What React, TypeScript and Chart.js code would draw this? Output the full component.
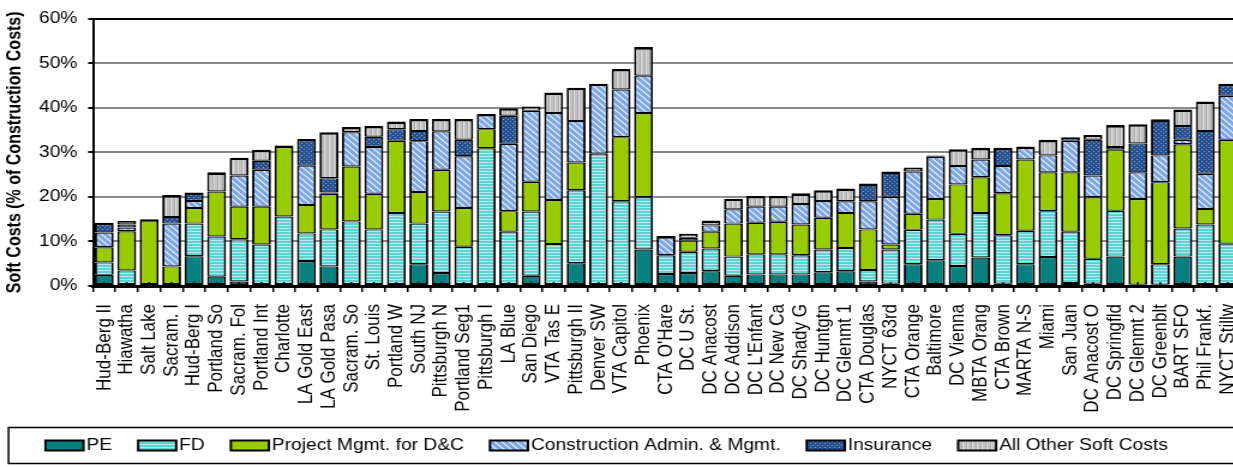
import React, { useEffect, useRef } from 'react';
import { Chart, registerables } from 'chart.js';

Chart.register(...registerables);

// ---------- data ----------
const categories = [
  'Hud-Berg II', 'Hiawatha', 'Salt Lake', 'Sacram. I', 'Hud-Berg I', 'Portland So', 'Sacram. Fol',
  'Portland Int', 'Charlotte', 'LA Gold East', 'LA Gold Pasa', 'Sacram. So', 'St. Louis', 'Portland W',
  'South NJ', 'Pittsburgh N', 'Portland Seg1', 'Pittsburgh I', 'LA Blue', 'San Diego', 'VTA Tas E',
  'Pittsburgh II', 'Denver SW', 'VTA Capitol', 'Phoenix', "CTA O'Hare", 'DC U St.', 'DC Anacost',
  'DC Addison', "DC L'Enfant", 'DC New Ca', 'DC Shady G', 'DC Huntgtn', 'DC Glenmt 1', 'CTA Douglas',
  'NYCT 63rd', 'CTA Orange', 'Baltimore', 'DC Vienna', 'MBTA Orang', 'CTA Brown', 'MARTA N-S', 'Miami',
  'San Juan', 'DC Anacost O', 'DC Springfld', 'DC Glenmt 2', 'DC Greenblt', 'BART SFO', 'Phil Frankf.',
  'NYCT Stillw',
];

const seriesNames = [
  'PE', 'FD', 'Project Mgmt. for D&C', 'Construction Admin. & Mgmt.', 'Insurance', 'All Other Soft Costs',
];

const peValues = [
  2.5, 0, 0, 0, 6.7, 2.1, 1.0, 0, 0, 5.6, 4.4, 0, 0, 0, 4.9, 2.9, 0, 0, 0, 2.3, 0, 5.1, 0, 0, 8.2,
  2.7, 2.9, 3.3, 2.3, 2.6, 2.6, 2.6, 3.1, 3.3, 1.0, 0.5, 4.9, 5.8, 4.5, 6.4, 0.5, 4.9, 6.5, 0.7,
  0.5, 6.6, 0.3, 0.3, 6.6, 0, 0,
];
const fdValues = [
  2.8, 3.5, 0, 0, 7.3, 9.0, 9.5, 9.3, 15.6, 6.2, 8.3, 14.5, 12.7, 16.4, 9.1, 13.8, 8.8, 30.9, 12.2,
  14.4, 9.4, 16.4, 29.7, 19.0, 11.7, 4.2, 4.8, 5.1, 4.3, 4.5, 4.5, 4.3, 5.1, 5.2, 2.6, 7.7, 7.7, 9.1,
  7.2, 10.0, 10.9, 7.5, 10.3, 11.5, 5.6, 10.3, 0, 4.6, 6.3, 13.8, 9.5,
];
const pmValues = [
  3.4, 8.8, 15.0, 4.4, 3.5, 10.1, 7.3, 8.5, 15.9, 6.4, 8.0, 12.3, 8.0, 16.2, 7.1, 9.4, 8.7, 4.3, 4.6,
  6.7, 9.9, 6.2, 0, 14.4, 18.9, 0, 2.5, 3.8, 7.4, 7.1, 7.3, 6.9, 7.1, 7.9, 9.1, 1.1, 3.6, 4.6, 11.1,
  8.0, 9.4, 16.0, 8.7, 13.3, 13.8, 13.7, 19.2, 18.4, 18.9, 3.5, 23.3,
];
const caValues = [
  3.3, 0.8, 0, 9.6, 1.6, 0, 7.0, 8.3, 0, 8.8, 0.3, 7.7, 10.5, 0, 11.4, 8.6, 11.6, 3.4, 15.1, 15.9,
  19.5, 9.3, 15.7, 10.7, 8.4, 4.3, 0.6, 1.4, 3.2, 3.6, 3.4, 4.6, 3.8, 2.6, 6.3, 10.7, 9.5, 9.5, 4.1,
  4.0, 6.1, 2.9, 3.8, 7.1, 4.9, 0.6, 6.0, 6.0, 1.0, 7.9, 9.9,
];
const insValues = [
  2.2, 0.7, 0, 1.5, 1.9, 0, 0, 2.0, 0, 6.0, 3.2, 0, 2.3, 2.6, 2.3, 0, 3.7, 0, 6.3, 0, 0, 0, 0, 0, 0,
  0, 0, 0, 0, 0, 0, 0, 0, 0, 4.0, 5.7, 0, 0.3, 0, 0, 4.1, 0, 0, 0.8, 8.0, 0, 6.5, 8.1, 3.1, 9.6, 2.7,
];
const otherValues = [
  0, 0.8, 0, 4.9, 0, 4.3, 4.0, 2.5, 0, 0, 10.3, 1.2, 2.4, 1.7, 2.7, 2.8, 4.7, 0, 1.7, 1.0, 4.6, 7.5,
  0, 4.6, 6.4, 0, 0.9, 1.1, 2.4, 2.4, 2.4, 2.4, 2.4, 2.9, 0, 0, 0.9, 0, 3.8, 2.6, 0, 0, 3.5, 0, 1.1,
  4.9, 4.3, 0, 3.7, 6.6, 0,
];

const yTickValues = [0, 10, 20, 30, 40, 50, 60];
const yTitle = 'Soft Costs (% of Construction Costs)';

// ---------- layout constants ----------
const SX = 1.2; // horizontal stretch of the rendered picture
const LW = 1040; // logical canvas width
const H = 467;
const FONT = '"Liberation Sans", Arial, Helvetica, sans-serif';

function tile(w: number, h: number, paint: (c: CanvasRenderingContext2D) => void): CanvasPattern | string {
  const cv = document.createElement('canvas');
  cv.width = w;
  cv.height = h;
  const c = cv.getContext('2d')!;
  paint(c);
  const p = c.createPattern(cv, 'repeat');
  return p || '#888';
}

function makeFills() {
  const pe = '#08807F';
  const fd = tile(6, 3, (c) => {
    c.fillStyle = '#5ED2D2';
    c.fillRect(0, 0, 6, 3);
    c.fillStyle = '#B6EEEE';
    c.fillRect(0, 0, 6, 1);
  });
  const pm = '#99CC00';
  const ca = tile(6, 6, (c) => {
    c.fillStyle = '#7EA7E6';
    c.fillRect(0, 0, 6, 6);
    c.fillStyle = '#D3E2F8';
    for (let y = 0; y < 6; y++) {
      for (let x = 0; x < 6; x++) {
        const d = (((x - y) % 6) + 6) % 6;
        if (d === 0 || d === 1) c.fillRect(x, y, 1, 1);
      }
    }
  });
  const ins = tile(4, 4, (c) => {
    c.fillStyle = '#26508E';
    c.fillRect(0, 0, 4, 4);
    c.fillStyle = '#86A6D6';
    c.fillRect(1, 1, 1, 1);
    c.fillRect(3, 3, 1, 1);
  });
  const other = tile(4, 1, (c) => {
    const cols = ['#C6C6C6', '#A6A6A6', '#E2E2E2', '#BEBEBE'];
    cols.forEach((col, i) => {
      c.fillStyle = col;
      c.fillRect(i, 0, 1, 1);
    });
  });
  return [pe, fd, pm, ca, ins, other];
}

const allSeries = [peValues, fdValues, pmValues, caValues, insValues, otherValues];

function topIndex(i: number) {
  let t = -1;
  allSeries.forEach((s, k) => {
    if (s[i] > 0) t = k;
  });
  return t;
}
function bottomIndex(i: number) {
  for (let k = 0; k < allSeries.length; k++) if (allSeries[k][i] > 0) return k;
  return -1;
}

// small inner tick marks at the foot of each category
const innerTicks = {
  id: 'innerTicks',
  afterDatasetsDraw(chart: any) {
    const ctx: CanvasRenderingContext2D = chart.ctx;
    const xs = chart.scales.x;
    const bottom = chart.chartArea.bottom;
    ctx.save();
    ctx.strokeStyle = '#000';
    ctx.lineWidth = 1.3;
    categories.forEach((_, i) => {
      const px = xs.getPixelForValue(i);
      ctx.beginPath();
      ctx.moveTo(px, bottom);
      ctx.lineTo(px, bottom - 4);
      ctx.stroke();
    });
    ctx.restore();
  },
};

const boxLegend = {
  id: 'boxLegend',
  afterDraw(chart: any) {
    const ctx: CanvasRenderingContext2D = chart.ctx;
    ctx.save();
    ctx.strokeStyle = '#000';
    ctx.lineWidth = 1.5;
    ctx.strokeRect(7.1, 427.5, chart.width + 10, 36);
    ctx.font = `16px ${FONT}`;
    ctx.textBaseline = 'middle';
    ctx.textAlign = 'left';
    const pw = 31.7;
    const ph = 10;
    let x = 37.9;
    chart.data.datasets.forEach((ds: any) => {
      ctx.fillStyle = ds.backgroundColor;
      ctx.fillRect(x, 440.5, pw, ph);
      ctx.lineWidth = 2;
      ctx.strokeRect(x, 440.5, pw, ph);
      ctx.fillStyle = '#000';
      ctx.fillText(ds.label, x + pw + 2.5, 446);
      x += pw + 2.5 + ctx.measureText(ds.label).width + 21.7;
    });
    ctx.restore();
  },
};

export default function App() {
  const ref = useRef<HTMLCanvasElement>(null);

  useEffect(() => {
    const canvas = ref.current;
    if (!canvas) return;
    const fills = makeFills();
    const datasets = allSeries.map((vals, k) => ({
      label: seriesNames[k],
      data: vals,
      backgroundColor: fills[k] as any,
      borderColor: '#000',
      borderSkipped: false as const,
      borderWidth: (ctx: any) => {
        const i = ctx.dataIndex;
        if (i === undefined || i === null) return 1.5;
        const top = topIndex(i);
        const bot = bottomIndex(i);
        return {
          left: 1.9,
          right: 1.9,
          top: k === top ? 2.6 : 1.2,
          bottom: k === bot ? 2.0 : 1.2,
        };
      },
      barPercentage: 0.84,
      categoryPercentage: 1.0,
    }));

    const chart = new Chart(canvas, {
      type: 'bar',
      data: { labels: categories, datasets },
      options: {
        responsive: false,
        animation: false,
        devicePixelRatio: 1,
        layout: { padding: { top: 12, left: 0, right: 7.5, bottom: 50 } },
        plugins: {
          legend: { display: false },
          tooltip: { enabled: false },
          title: { display: false },
        },
        scales: {
          x: {
            stacked: true,
            grid: {
              display: true,
              drawOnChartArea: false,
              drawTicks: true,
              tickLength: 6,
              tickColor: '#000',
              lineWidth: 1.5,
              offset: true,
            },
            border: { display: true, color: '#000', width: 3 },
            ticks: {
              autoSkip: false,
              minRotation: 90,
              maxRotation: 90,
              padding: 12,
              color: '#000',
              font: { family: FONT, size: 17 },
            },
            afterFit: (s: any) => {
              s.height = 131;
              s.paddingLeft = 0;
              s.paddingRight = 0;
            },
          },
          y: {
            stacked: true,
            min: yTickValues[0],
            max: yTickValues[yTickValues.length - 1],
            afterBuildTicks: (s: any) => {
              s.ticks = yTickValues.map((v) => ({ value: v }));
            },
            ticks: {
              callback: (v: any) => `${v}%`,
              padding: 9,
              color: '#000',
              font: { family: FONT, size: 16 },
            },
            grid: {
              color: (c: any) => (c.tick && c.tick.value === 60 ? '#000' : '#8A8A8A'),
              lineWidth: 2,
              drawTicks: true,
              tickLength: 4,
              tickColor: '#000',
            },
            border: { display: true, color: '#000', width: 2 },
            title: {
              display: true,
              text: yTitle,
              color: '#000',
              font: { family: FONT, size: 16, weight: 'bold' },
              padding: { top: 3.3, bottom: 0 },
            },
            afterFit: (s: any) => {
              s.width = 77.5;
            },
          },
        },
      },
      plugins: [innerTicks, boxLegend],
    });
    return () => chart.destroy();
  }, []);

  return (
    <div
      style={{
        position: 'fixed',
        left: 0,
        top: 0,
        width: 1233,
        height: H,
        overflow: 'hidden',
        background: '#fff',
      }}
    >
      <canvas
        ref={ref}
        width={LW}
        height={H}
        style={{ width: `${LW * SX}px`, height: `${H}px`, display: 'block' }}
      />
    </div>
  );
}
